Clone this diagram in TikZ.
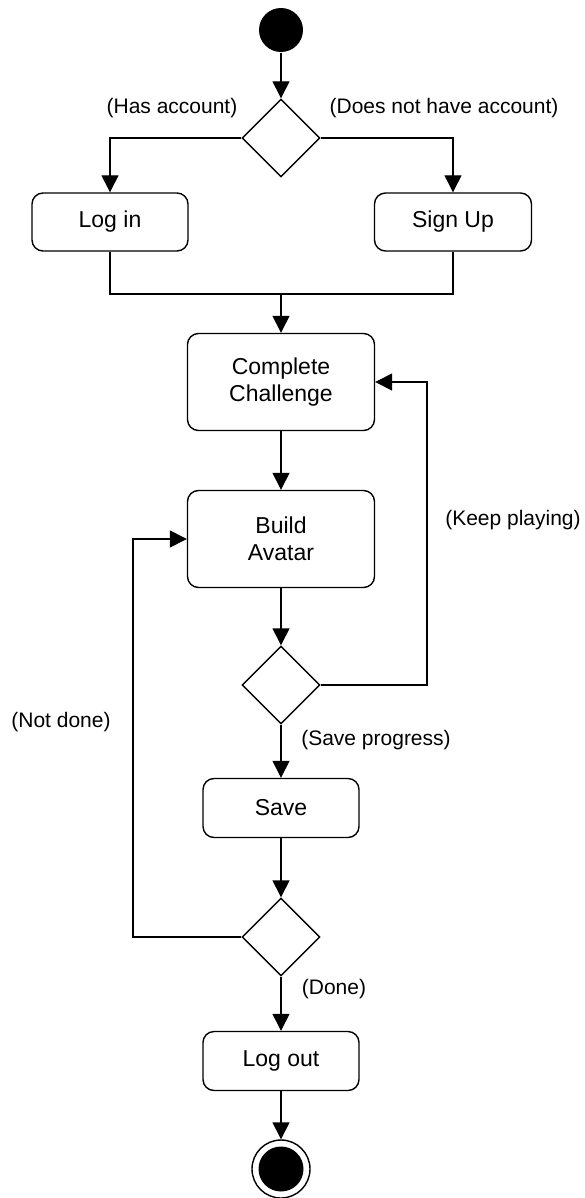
\documentclass[tikz,border=0pt]{standalone}
\usepackage{fontspec}
\setmainfont{Liberation Sans}
\usetikzlibrary{shapes.geometric,arrows.meta}
\tikzstyle{activity}=[rectangle, draw, rounded corners=11pt, line width=1.4pt, align=center, font=\fontsize{23}{27}\selectfont, inner sep=0pt]
\tikzstyle{decision}=[diamond, draw, line width=1.4pt, minimum width=78pt, minimum height=78pt, inner sep=0pt]
\tikzstyle{guard}=[font=\fontsize{21}{24}\selectfont, inner sep=0pt]
\tikzstyle{flow}=[-{Triangle[width=17pt,length=17pt]}, line width=1.4pt]

\begin{document}
\begin{tikzpicture}[x=1pt, y=-1pt, line width=1.4pt]
                \useasboundingbox (0,0) rectangle (584,1198);
                \node[circle, fill=black, minimum size=44pt, inner sep=0pt] (start) at (281,30) {};
                \node[decision] (d1) at (281,138) {};
                \node[guard] (has) at (172,108) {(Has account)};
                \node[guard] (hasnot) at (444,108) {(Does not have account)};
                \node[activity, minimum width=156pt, minimum height=58pt] (login) at (110,222) {Log in};
                \node[activity, minimum width=157pt, minimum height=58pt] (signup) at (453,222) {Sign Up};
                \coordinate (merge) at (281,294);
                \node[activity, minimum width=187pt, minimum height=97pt] (cc) at (281,382) {Complete\\Challenge};
                \node[activity, minimum width=187pt, minimum height=97pt] (ba) at (281,539) {Build\\Avatar};
                \node[decision] (d2) at (281,685) {};
                \coordinate (kp) at (427,685);
                \node[guard] (keep) at (513,520) {(Keep playing)};
                \node[guard] (saveprog) at (376,740) {(Save progress)};
                \node[activity, minimum width=156pt, minimum height=59pt] (save) at (281,808) {Save};
                \node[decision] (d3) at (281,937) {};
                \coordinate (nd) at (133,937);
                \node[guard] (notdone) at (61,722) {(Not done)};
                \node[guard] (done) at (334,989) {(Done)};
                \node[activity, minimum width=156pt, minimum height=59pt] (logout) at (281,1061) {Log out};
                \node[circle, draw, minimum size=58pt, inner sep=0pt] (finish) at (281,1169) {};
                \node[circle, fill=black, minimum size=45pt, inner sep=0pt] (finishdot) at (281,1169) {};
                \draw[flow] (start)--(d1);
                \draw[flow] (d1.west) -| (login);
                \draw[flow] (d1.east) -| (signup);
                \draw (login.south) |- (merge);
                \draw (signup.south) |- (merge);
                \draw[flow] (merge)--(cc);
                \draw[flow] (cc)--(ba);
                \draw[flow] (ba)--(d2);
                \draw[flow] (d2.east)--(kp) |- (cc.east);
                \draw[flow] (d2)--(save);
                \draw[flow] (save)--(d3);
                \draw[flow] (d3.west)--(nd) |- (ba.west);
                \draw[flow] (d3)--(logout);
                \draw[flow] (logout)--(finish);
            \end{tikzpicture}
\end{document}
